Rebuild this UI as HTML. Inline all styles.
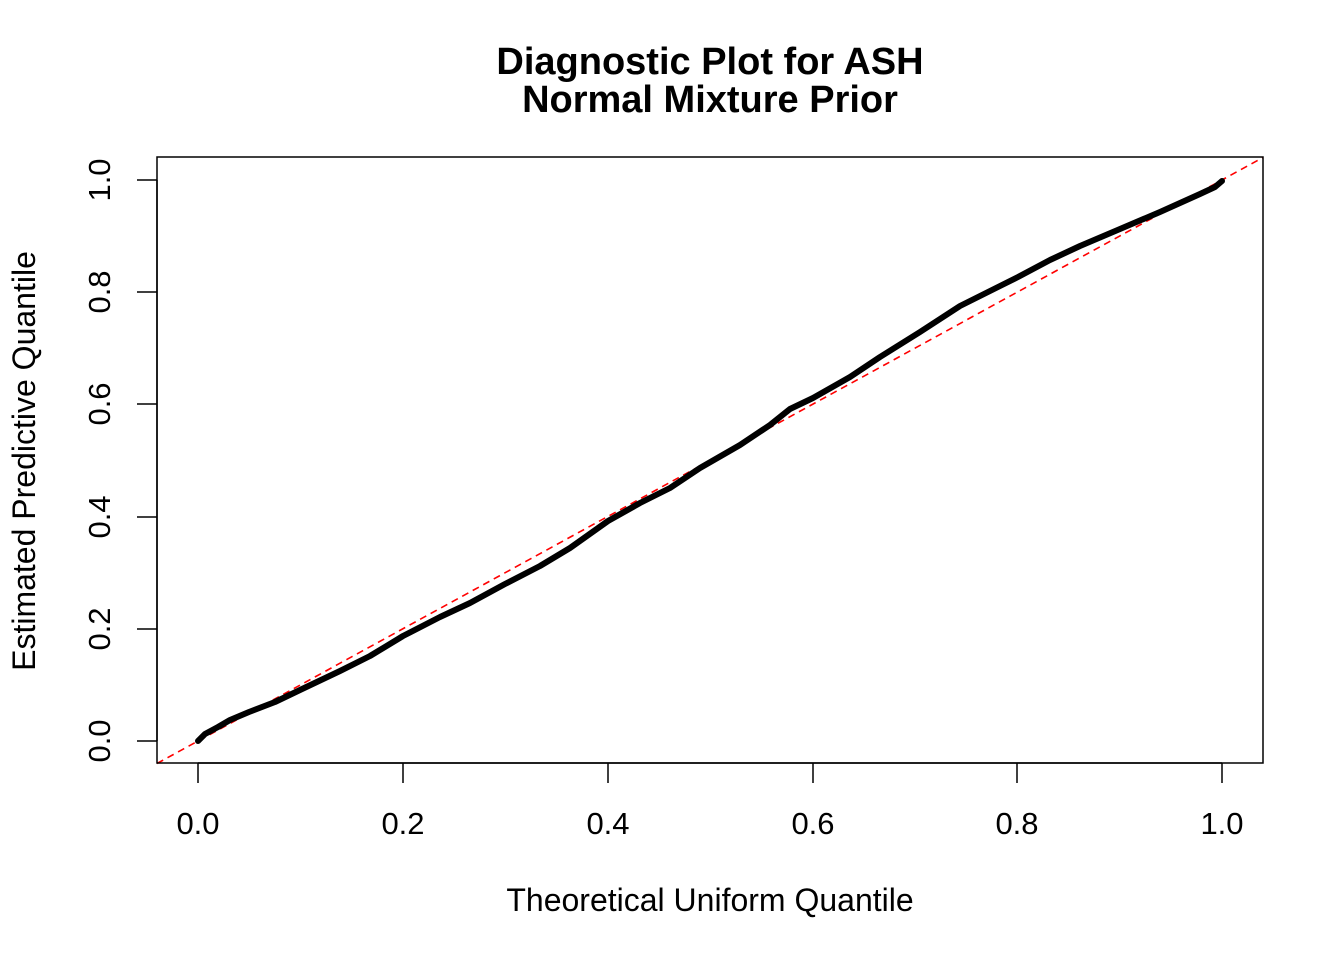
<!DOCTYPE html>
<html><head><style>body{margin:0;background:#fff}svg{display:block}text{font-family:"Liberation Sans",Arial,sans-serif}</style></head>
<body>
<svg width="1344" height="960" viewBox="0 0 1344 960" xmlns="http://www.w3.org/2000/svg">
<rect width="1344" height="960" fill="#fff"/>
<text x="710" y="74" font-size="38" font-weight="bold" text-anchor="middle">Diagnostic Plot for ASH</text>
<text x="710" y="112" font-size="38" font-weight="bold" text-anchor="middle">Normal Mixture Prior</text>
<line x1="157" y1="763.5" x2="1263" y2="157.5" stroke="#ff0000" stroke-width="1.6" stroke-dasharray="7,5"/>
<path d="M198,741 L205,734 L218,727 L230,720 L249,712 L275,702 L300,690 L340,671 L370,656 L403,636 L440,617 L470,603 L505,584 L540,566 L570,548 L608,521 L640,503 L670,488 L700,468 L740,445 L770,425 L790,409 L813,398 L850,377 L880,357 L920,332 L960,306 L1000,286 L1018,277 L1050,260 L1080,246 L1120,229 L1160,212 L1200,194 L1215,187 L1222,181" fill="none" stroke="#000" stroke-width="6" stroke-linejoin="round" stroke-linecap="round"/>
<rect x="157" y="157" width="1106" height="606" fill="none" stroke="#000" stroke-width="1.5"/>
<g stroke="#000" stroke-width="1.5">
<line x1="198" y1="763" x2="1222" y2="763"/>
<line x1="198" y1="763" x2="198" y2="783"/><line x1="403" y1="763" x2="403" y2="783"/><line x1="608" y1="763" x2="608" y2="783"/><line x1="813" y1="763" x2="813" y2="783"/><line x1="1017" y1="763" x2="1017" y2="783"/><line x1="1222" y1="763" x2="1222" y2="783"/>
<line x1="157" y1="180" x2="157" y2="741"/>
<line x1="157" y1="741" x2="137" y2="741"/><line x1="157" y1="629" x2="137" y2="629"/><line x1="157" y1="517" x2="137" y2="517"/><line x1="157" y1="404" x2="137" y2="404"/><line x1="157" y1="292" x2="137" y2="292"/><line x1="157" y1="180" x2="137" y2="180"/>
</g>
<g font-size="31" text-anchor="middle">
<text x="198" y="834">0.0</text><text x="403" y="834">0.2</text><text x="608" y="834">0.4</text><text x="813" y="834">0.6</text><text x="1017" y="834">0.8</text><text x="1222" y="834">1.0</text>
<text transform="translate(110,741) rotate(-90)">0.0</text>
<text transform="translate(110,629) rotate(-90)">0.2</text>
<text transform="translate(110,517) rotate(-90)">0.4</text>
<text transform="translate(110,404) rotate(-90)">0.6</text>
<text transform="translate(110,292) rotate(-90)">0.8</text>
<text transform="translate(110,180) rotate(-90)">1.0</text>
</g>
<g font-size="32" text-anchor="middle">
<text x="710" y="911">Theoretical Uniform Quantile</text>
<text transform="translate(35,461) rotate(-90)">Estimated Predictive Quantile</text>
</g>
</svg>
</body></html>
